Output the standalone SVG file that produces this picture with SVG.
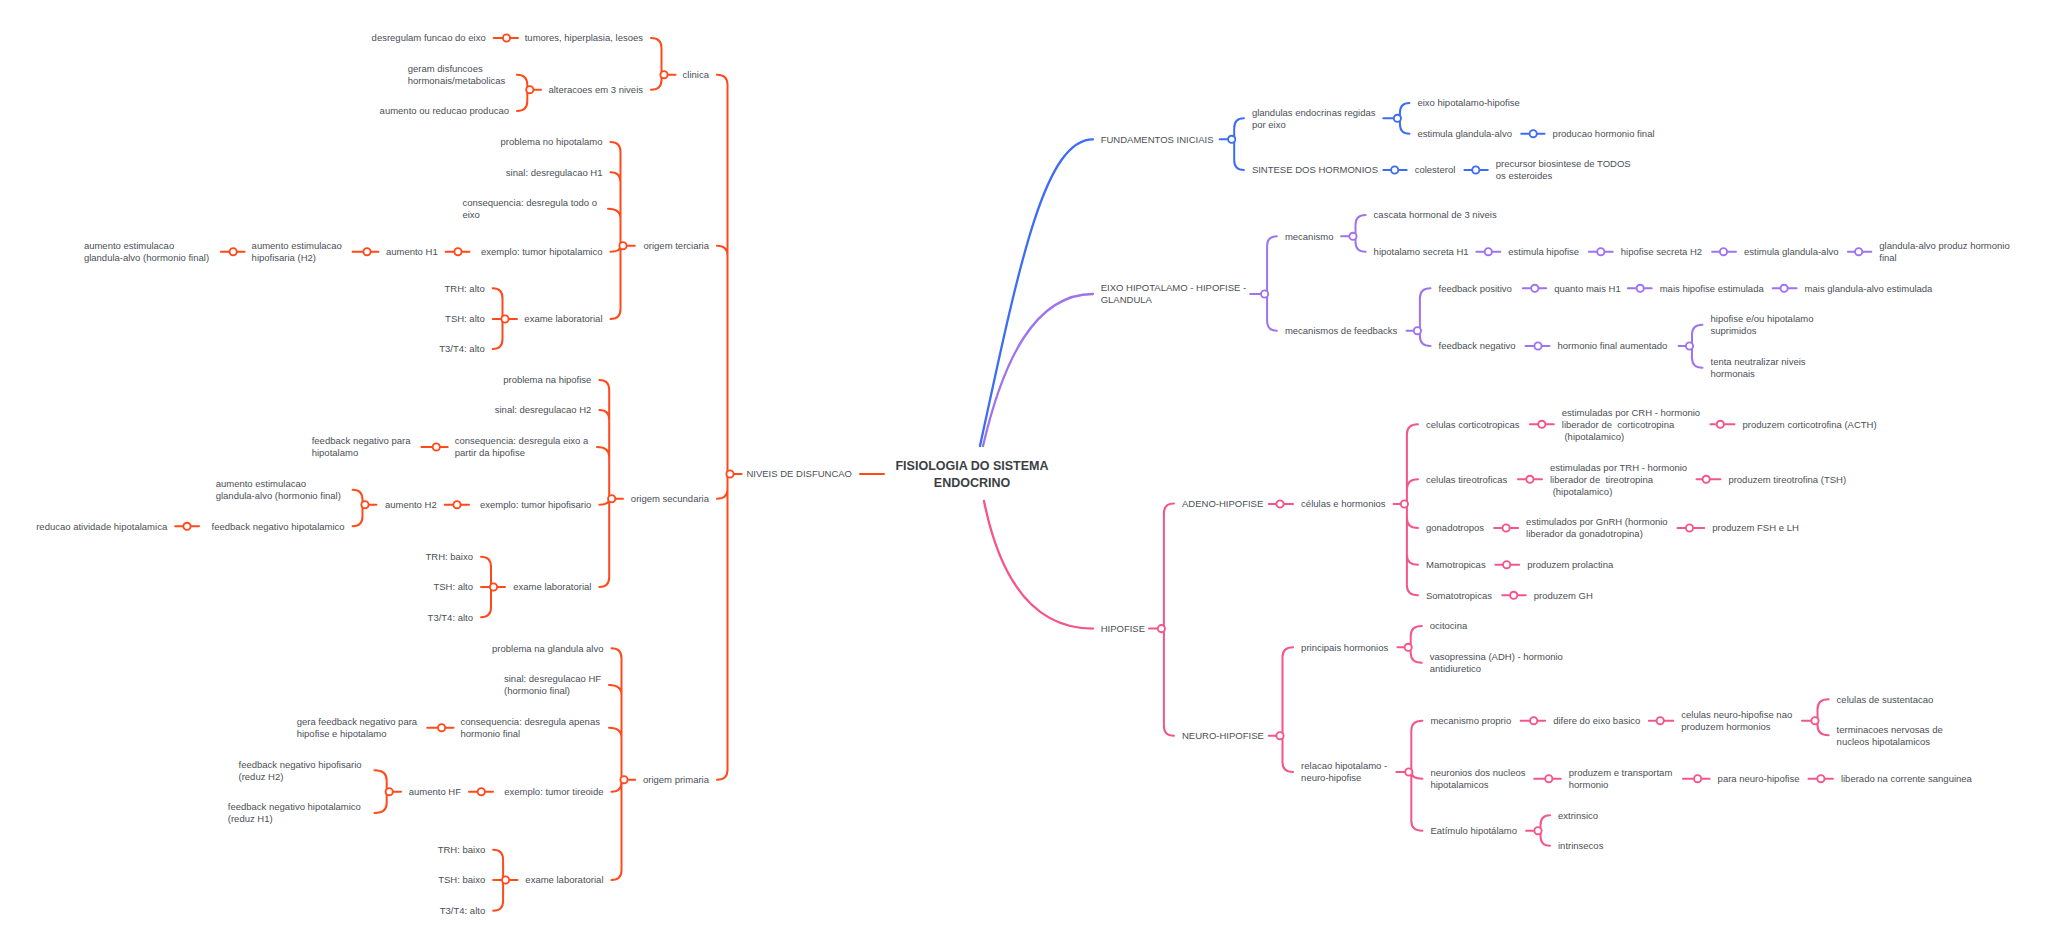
<svg xmlns="http://www.w3.org/2000/svg" width="2048" height="949" viewBox="0 0 2048 949">
<style>
.t{font-family:"Liberation Sans",Arial,sans-serif;font-size:9.5px;fill:#4b4f56;stroke:none}
.e{text-anchor:end}
.title{font-family:"Liberation Sans",Arial,sans-serif;font-size:12.5px;font-weight:bold;fill:#3b3f45;stroke:none;text-anchor:middle}
.red{stroke:#ff4a1c}.blue{stroke:#3d6cf5}.pur{stroke:#9f73ee}.pink{stroke:#f4558a}
circle{fill:#fff;stroke-width:1.9}
#connectors path{fill:none;stroke-width:2;stroke-linecap:round}
#connectors .root{stroke-width:2.3}
</style>
<rect width="2048" height="949" fill="#fff"/>
<g id="connectors">
<g class="red">
<path d="M884 474L860 474M741.6 474L730 474"/>
<path d="M717 74.7Q727.5 74.7 727.5 84.7L727.5 474M717 245.7Q727.5 245.7 727.5 255.7L727.5 474M717 498.7Q727.5 498.7 727.5 488.7L727.5 474M717 779.7Q727.5 779.7 727.5 769.7L727.5 474"/>
<path d="M675.5 74.7L664 74.7M651 38Q661.5 38 661.5 48L661.5 74.7M651 89.7Q661.5 89.7 661.5 79.7L661.5 74.7"/>
<path d="M518 38L493.7 38"/>
<path d="M541 89.7L529.8 89.7M517 74.7Q527.3 74.7 527.3 84.7L527.3 89.7M517 111Q527.3 111 527.3 101L527.3 89.7"/>
<path d="M634.8 245.7L623 245.7M610.5 142Q620.5 142 620.5 152L620.5 245.7M610.5 172.3Q620.5 172.3 620.5 182.3L620.5 245.7M608 208.8Q620.5 208.8 620.5 218.8L620.5 245.7M610.5 251.7Q620.5 251.7 620.5 245.7M610.5 319Q620.5 319 620.5 309L620.5 245.7"/>
<path d="M469.5 251.7L445.7 251.7M378.4 251.7L352.6 251.7M244.6 251.7L220.8 251.7"/>
<path d="M517 319L492.7 319M492.7 288.3Q502.5 288.3 502.5 298.3L502.5 319M492.7 349Q502.5 349 502.5 339L502.5 319"/>
<path d="M623 498.7L611.7 498.7M599.4 380Q609.2 380 609.2 390L609.2 498.7M599.4 410Q609.2 410 609.2 420L609.2 498.7M597 447Q609.2 447 609.2 457L609.2 498.7M599.4 504.7Q609.2 504.7 609.2 498.7M599.4 587Q609.2 587 609.2 577L609.2 498.7"/>
<path d="M447.7 447L421.5 447M469 504.7L444.7 504.7M376.4 504.7L365 504.7M352.6 489.7Q362.5 489.7 362.5 499.7L362.5 504.7M352.6 526.3Q362.5 526.3 362.5 516.3L362.5 504.7M199 526.3L175.2 526.3"/>
<path d="M505 587L481 587M481 556.7Q491 556.7 491 566.7L491 587M481 617.3Q491 617.3 491 607.3L491 587"/>
<path d="M635.3 779.7L624 779.7M611.5 648.3Q621.5 648.3 621.5 658.3L621.5 779.7M609 685Q621.5 685 621.5 695L621.5 779.7M609 727.7Q621.5 727.7 621.5 737.7L621.5 779.7M611.5 791.7Q621.5 791.7 621.5 781.7L621.5 779.7M611.5 880Q621.5 880 621.5 870L621.5 779.7"/>
<path d="M453.5 727.7L427.3 727.7M493 791.7L469 791.7M401 791.7L389.2 791.7M374.5 770.3Q386.7 770.3 386.7 780.3L386.7 791.7M374.5 813Q386.7 813 386.7 803L386.7 791.7"/>
<path d="M517.5 880L493.2 880M493.2 849.7Q503.1 849.7 503.1 859.7L503.1 880M493.2 910.7Q503.1 910.7 503.1 900.7L503.1 880"/>
</g>
<g class="blue">
<path class="root" d="M980 446C1020 260 1045 139.3 1093 139.3"/>
<path d="M1219.7 139.3L1231.7 139.3M1243.9 118.3Q1234.2 118.3 1234.2 128.3L1234.2 139.3M1243.9 170Q1234.2 170 1234.2 160L1234.2 139.3"/>
<path d="M1383.3 118.3L1397.4 118.3M1409.4 103Q1399.9 103 1399.9 113L1399.9 118.3M1409.4 133.7Q1399.9 133.7 1399.9 123.7L1399.9 118.3"/>
<path d="M1521.2 133.7L1544.6 133.7M1383.3 170L1406.7 170M1464.4 170L1487.8 170"/>
</g>
<g class="pur">
<path class="root" d="M983 446C1003 360 1035 294 1093 294"/>
<path d="M1250.2 294L1264.6 294M1276.9 236.3Q1267.1 236.3 1267.1 246.3L1267.1 294M1276.9 330.7Q1267.1 330.7 1267.1 320.7L1267.1 294"/>
<path d="M1341.1 236.3L1353 236.3M1365.6 215Q1355.5 215 1355.5 225L1355.5 236.3M1365.6 251.7Q1355.5 251.7 1355.5 241.7L1355.5 236.3"/>
<path d="M1476.3 251.7L1500.3 251.7M1588.8 251.7L1612.8 251.7M1712.1 251.7L1736 251.7M1847.9 251.7L1871.3 251.7"/>
<path d="M1406.6 330.7L1417.4 330.7M1430.5 288.3Q1419.9 288.3 1419.9 298.3L1419.9 330.7M1430.5 346Q1419.9 346 1419.9 336L1419.9 330.7"/>
<path d="M1522.8 288.3L1546.2 288.3M1627.8 288.3L1651.7 288.3M1772.7 288.3L1796.6 288.3M1525.5 346L1549.5 346"/>
<path d="M1678.6 346L1689.5 346M1702.5 324.8Q1692 324.8 1692 334.8L1692 346M1702.5 367.7Q1692 367.7 1692 357.7L1692 346"/>
</g>
<g class="pink">
<path class="root" d="M984 501C1002 590 1040 628.6 1093 628.6"/>
<path d="M1149 628.6L1161.4 628.6M1174 503.6Q1163.9 503.6 1163.9 513.6L1163.9 628.6M1174 735.7Q1163.9 735.7 1163.9 725.7L1163.9 628.6"/>
<path d="M1268.8 504L1293.1 504M1393.6 504L1404.4 504"/>
<path d="M1418 424.3Q1406.9 424.3 1406.9 434.3L1406.9 504M1418 479.3Q1406.9 479.3 1406.9 489.3L1406.9 504M1418 528Q1406.9 528 1406.9 518L1406.9 504M1418 564.7Q1406.9 564.7 1406.9 554.7L1406.9 504M1418 595.3Q1406.9 595.3 1406.9 585.3L1406.9 504"/>
<path d="M1529.9 424.3L1553.8 424.3M1710.5 424.3L1734.5 424.3M1518 479.3L1542 479.3M1696.5 479.3L1720.4 479.3M1494.2 528L1518.1 528M1677.5 528L1704.2 528M1495.3 564.7L1519.2 564.7M1502.3 595.3L1525.7 595.3"/>
<path d="M1268.7 735.7L1280 735.7M1293.1 647.3Q1282.5 647.3 1282.5 657.3L1282.5 735.7M1293.1 772Q1282.5 772 1282.5 762L1282.5 735.7"/>
<path d="M1397.4 647.3L1408.2 647.3M1421.8 626Q1410.7 626 1410.7 636L1410.7 647.3M1421.8 662.7Q1410.7 662.7 1410.7 652.7L1410.7 647.3"/>
<path d="M1396.3 772L1408.8 772M1422.4 720.7Q1411.3 720.7 1411.3 730.7L1411.3 772M1422.4 778.7Q1411.3 778.7 1411.3 772M1422.4 830.7Q1411.3 830.7 1411.3 820.7L1411.3 772"/>
<path d="M1520.7 720.7L1545.2 720.7M1648.9 720.7L1673.3 720.7M1802 720.7L1815 720.7M1828.6 699.3Q1817.5 699.3 1817.5 709.3L1817.5 720.7M1828.6 735.3Q1817.5 735.3 1817.5 725.3L1817.5 720.7"/>
<path d="M1534.2 778.7L1560.8 778.7M1683 778.7L1709.6 778.7M1808.4 778.7L1832.9 778.7"/>
<path d="M1526.1 830.7L1538 830.7M1550 815.3Q1540.5 815.3 1540.5 825.3L1540.5 830.7M1550 845.7Q1540.5 845.7 1540.5 835.7L1540.5 830.7"/>
</g>
</g>

<g id="root"><text class="title" x="972" y="470">FISIOLOGIA DO SISTEMA</text><text class="title" x="972" y="486.5">ENDOCRINO</text></g>

<g class="red">
<g id="niveis"><text class="t e" x="852" y="477.4">NIVEIS DE DISFUNCAO</text><circle cx="730" cy="474" r="3.6"/></g>
<g id="clinica"><text class="t e" x="709" y="78.1">clinica</text><circle cx="664" cy="74.7" r="3.6"/></g>
<g id="tumores"><text class="t e" x="643" y="41.4">tumores, hiperplasia, lesoes</text><circle cx="506.5" cy="38" r="3.6"/></g>
<g id="desregulam"><text class="t e" x="485.7" y="41.4">desregulam funcao do eixo</text></g>
<g id="alteracoes"><text class="t e" x="643" y="93.1">alteracoes em 3 niveis</text><circle cx="529.8" cy="89.7" r="3.6"/></g>
<g id="geram"><text class="t" x="407.7" y="72.1">geram disfuncoes<tspan x="407.7" y="84.1">hormonais/metabolicas</tspan></text></g>
<g id="aumento-reducao"><text class="t e" x="509" y="114.4">aumento ou reducao producao</text></g>

<g id="terciaria"><text class="t e" x="709" y="249.1">origem terciaria</text><circle cx="623" cy="245.7" r="3.6"/></g>
<g id="ter-problema"><text class="t e" x="602.5" y="145.4">problema no hipotalamo</text></g>
<g id="ter-sinal"><text class="t e" x="602.5" y="175.7">sinal: desregulacao H1</text></g>
<g id="ter-consequencia"><text class="t" x="462.4" y="206.1">consequencia: desregula todo o<tspan x="462.4" y="218.1">eixo</tspan></text></g>
<g id="ter-exemplo"><text class="t e" x="602.5" y="255.1">exemplo: tumor hipotalamico</text><circle cx="458" cy="251.7" r="3.6"/></g>
<g id="ter-aumento-h1"><text class="t e" x="437.7" y="255.1">aumento H1</text><circle cx="367" cy="251.7" r="3.6"/></g>
<g id="ter-estim-hip"><text class="t" x="251.6" y="249.1">aumento estimulacao<tspan x="251.6" y="261.1">hipofisaria (H2)</tspan></text><circle cx="233.2" cy="251.7" r="3.6"/></g>
<g id="ter-estim-gl"><text class="t" x="83.9" y="249.1">aumento estimulacao<tspan x="83.9" y="261.1">glandula-alvo (hormonio final)</tspan></text></g>
<g id="ter-exame"><text class="t e" x="602.5" y="322.4">exame laboratorial</text><circle cx="505" cy="319" r="3.6"/></g>
<g id="ter-trh"><text class="t e" x="484.7" y="291.7">TRH: alto</text></g>
<g id="ter-tsh"><text class="t e" x="484.7" y="322.4">TSH: alto</text></g>
<g id="ter-t3"><text class="t e" x="484.7" y="352.4">T3/T4: alto</text></g>

<g id="secundaria"><text class="t e" x="709" y="502.1">origem secundaria</text><circle cx="611.7" cy="498.7" r="3.6"/></g>
<g id="sec-problema"><text class="t e" x="591.4" y="383.4">problema na hipofise</text></g>
<g id="sec-sinal"><text class="t e" x="591.4" y="413.4">sinal: desregulacao H2</text></g>
<g id="sec-consequencia"><text class="t" x="454.7" y="444.4">consequencia: desregula eixo a<tspan x="454.7" y="456.4">partir da hipofise</tspan></text><circle cx="436.3" cy="447" r="3.6"/></g>
<g id="sec-feedback"><text class="t" x="311.7" y="444.4">feedback negativo para<tspan x="311.7" y="456.4">hipotalamo</tspan></text></g>
<g id="sec-exemplo"><text class="t e" x="591.4" y="508.1">exemplo: tumor hipofisario</text><circle cx="457" cy="504.7" r="3.6"/></g>
<g id="sec-aumento-h2"><text class="t e" x="436.7" y="508.1">aumento H2</text><circle cx="365" cy="504.7" r="3.6"/></g>
<g id="sec-estim-gl"><text class="t" x="215.7" y="487.1">aumento estimulacao<tspan x="215.7" y="499.1">glandula-alvo (hormonio final)</tspan></text></g>
<g id="sec-fb-hipot"><text class="t e" x="344.6" y="529.7">feedback negativo hipotalamico</text><circle cx="187" cy="526.3" r="3.6"/></g>
<g id="sec-reducao"><text class="t e" x="167.2" y="529.7">reducao atividade hipotalamica</text></g>
<g id="sec-exame"><text class="t e" x="591.4" y="590.4">exame laboratorial</text><circle cx="493.5" cy="587" r="3.6"/></g>
<g id="sec-trh"><text class="t e" x="473" y="560.1">TRH: baixo</text></g>
<g id="sec-tsh"><text class="t e" x="473" y="590.4">TSH: alto</text></g>
<g id="sec-t3"><text class="t e" x="473" y="620.7">T3/T4: alto</text></g>

<g id="primaria"><text class="t e" x="709" y="783.1">origem primaria</text><circle cx="624" cy="779.7" r="3.6"/></g>
<g id="pri-problema"><text class="t e" x="603.5" y="651.7">problema na glandula alvo</text></g>
<g id="pri-sinal"><text class="t" x="504" y="682.4">sinal: desregulacao HF<tspan x="504" y="694.4">(hormonio final)</tspan></text></g>
<g id="pri-consequencia"><text class="t" x="460.5" y="725.1">consequencia: desregula apenas<tspan x="460.5" y="737.1">hormonio final</tspan></text><circle cx="441.6" cy="727.7" r="3.6"/></g>
<g id="pri-gera"><text class="t" x="296.7" y="725.1">gera feedback negativo para<tspan x="296.7" y="737.1">hipofise e hipotalamo</tspan></text></g>
<g id="pri-exemplo"><text class="t e" x="603.5" y="795.1">exemplo: tumor tireoide</text><circle cx="481.3" cy="791.7" r="3.6"/></g>
<g id="pri-aumento-hf"><text class="t e" x="461" y="795.1">aumento HF</text><circle cx="389.2" cy="791.7" r="3.6"/></g>
<g id="pri-fb-hipof"><text class="t" x="238.5" y="767.7">feedback negativo hipofisario<tspan x="238.5" y="779.7">(reduz H2)</tspan></text></g>
<g id="pri-fb-hipot"><text class="t" x="227.8" y="810.4">feedback negativo hipotalamico<tspan x="227.8" y="822.4">(reduz H1)</tspan></text></g>
<g id="pri-exame"><text class="t e" x="603.5" y="883.4">exame laboratorial</text><circle cx="505.6" cy="880" r="3.6"/></g>
<g id="pri-trh"><text class="t e" x="485.2" y="853.1">TRH: baixo</text></g>
<g id="pri-tsh"><text class="t e" x="485.2" y="883.4">TSH: baixo</text></g>
<g id="pri-t3"><text class="t e" x="485.2" y="914.1">T3/T4: alto</text></g>
</g>

<g class="blue">
<g id="fundamentos"><text class="t" x="1100.7" y="142.7">FUNDAMENTOS INICIAIS</text><circle cx="1231.7" cy="139.3" r="3.6"/></g>
<g id="glandulas"><text class="t" x="1251.9" y="115.7">glandulas endocrinas regidas<tspan x="1251.9" y="127.7">por eixo</tspan></text><circle cx="1397.4" cy="118.3" r="3.6"/></g>
<g id="eixo-hh"><text class="t" x="1417.4" y="106.4">eixo hipotalamo-hipofise</text></g>
<g id="estimula-ga"><text class="t" x="1417.4" y="137.1">estimula glandula-alvo</text><circle cx="1533.2" cy="133.7" r="3.6"/></g>
<g id="producao"><text class="t" x="1552.6" y="137.1">producao hormonio final</text></g>
<g id="sintese"><text class="t" x="1251.9" y="173.4">SINTESE DOS HORMONIOS</text><circle cx="1394.7" cy="170" r="3.6"/></g>
<g id="colesterol"><text class="t" x="1414.7" y="173.4">colesterol</text><circle cx="1475.8" cy="170" r="3.6"/></g>
<g id="precursor"><text class="t" x="1495.8" y="167.4">precursor biosintese de TODOS<tspan x="1495.8" y="179.4">os esteroides</tspan></text></g>
</g>

<g class="pur">
<g id="eixo"><text class="t" x="1100.7" y="291.3">EIXO HIPOTALAMO - HIPOFISE -<tspan x="1100.7" y="303.4">GLANDULA</tspan></text><circle cx="1264.6" cy="294" r="3.6"/></g>
<g id="mecanismo"><text class="t" x="1284.9" y="239.7">mecanismo</text><circle cx="1353" cy="236.3" r="3.6"/></g>
<g id="cascata"><text class="t" x="1373.6" y="218.4">cascata hormonal de 3 niveis</text></g>
<g id="hip-h1"><text class="t" x="1373.6" y="255.1">hipotalamo secreta H1</text><circle cx="1488.3" cy="251.7" r="3.6"/></g>
<g id="estim-hipofise"><text class="t" x="1508.3" y="255.1">estimula hipofise</text><circle cx="1600.8" cy="251.7" r="3.6"/></g>
<g id="hipofise-h2"><text class="t" x="1620.8" y="255.1">hipofise secreta H2</text><circle cx="1723.5" cy="251.7" r="3.6"/></g>
<g id="estim-ga2"><text class="t" x="1744" y="255.1">estimula glandula-alvo</text><circle cx="1858.7" cy="251.7" r="3.6"/></g>
<g id="ga-produz"><text class="t" x="1879.3" y="249.1">glandula-alvo produz hormonio<tspan x="1879.3" y="261.1">final</tspan></text></g>
<g id="feedbacks"><text class="t" x="1284.9" y="334.1">mecanismos de feedbacks</text><circle cx="1417.4" cy="330.7" r="3.6"/></g>
<g id="fb-pos"><text class="t" x="1438.5" y="291.7">feedback positivo</text><circle cx="1534.8" cy="288.3" r="3.6"/></g>
<g id="quanto"><text class="t" x="1554.2" y="291.7">quanto mais H1</text><circle cx="1640.2" cy="288.3" r="3.6"/></g>
<g id="mais-hip"><text class="t" x="1659.7" y="291.7">mais hipofise estimulada</text><circle cx="1784.1" cy="288.3" r="3.6"/></g>
<g id="mais-ga"><text class="t" x="1804.6" y="291.7">mais glandula-alvo estimulada</text></g>
<g id="fb-neg"><text class="t" x="1438.5" y="349.4">feedback negativo</text><circle cx="1538" cy="346" r="3.6"/></g>
<g id="hf-aumentado"><text class="t" x="1557.5" y="349.4">hormonio final aumentado</text><circle cx="1689.5" cy="346" r="3.6"/></g>
<g id="suprimidos"><text class="t" x="1710.5" y="322.2">hipofise e/ou hipotalamo<tspan x="1710.5" y="334.2">suprimidos</tspan></text></g>
<g id="neutralizar"><text class="t" x="1710.5" y="365.1">tenta neutralizar niveis<tspan x="1710.5" y="377.1">hormonais</tspan></text></g>
</g>

<g class="pink">
<g id="hipofise"><text class="t" x="1100.7" y="632">HIPOFISE</text><circle cx="1161.4" cy="628.6" r="3.6"/></g>
<g id="adeno"><text class="t" x="1182" y="507.2">ADENO-HIPOFISE</text><circle cx="1280" cy="504" r="3.6"/></g>
<g id="celulas-horm"><text class="t" x="1301.1" y="507.4">células e hormonios</text><circle cx="1404.4" cy="504" r="3.6"/></g>
<g id="cortico"><text class="t" x="1426" y="427.7">celulas corticotropicas</text><circle cx="1541.8" cy="424.3" r="3.6"/></g>
<g id="crh"><text class="t" x="1561.8" y="415.7" xml:space="preserve">estimuladas por CRH - hormonio<tspan x="1561.8" y="427.7">liberador de  corticotropina</tspan><tspan x="1561.8" y="439.7"> (hipotalamico)</tspan></text><circle cx="1720.3" cy="424.3" r="3.6"/></g>
<g id="acth"><text class="t" x="1742.5" y="427.7">produzem corticotrofina (ACTH)</text></g>
<g id="tireo"><text class="t" x="1426" y="482.7">celulas tireotroficas</text><circle cx="1529.9" cy="479.3" r="3.6"/></g>
<g id="trh"><text class="t" x="1550" y="470.7" xml:space="preserve">estimuladas por TRH - hormonio<tspan x="1550" y="482.7">liberador de  tireotropina</tspan><tspan x="1550" y="494.7"> (hipotalamico)</tspan></text><circle cx="1706.2" cy="479.3" r="3.6"/></g>
<g id="tsh"><text class="t" x="1728.4" y="482.7">produzem tireotrofina (TSH)</text></g>
<g id="gonado"><text class="t" x="1426" y="531.4">gonadotropos</text><circle cx="1506.1" cy="528" r="3.6"/></g>
<g id="gnrh"><text class="t" x="1526.1" y="525.4">estimulados por GnRH (hormonio<tspan x="1526.1" y="537.4">liberador da gonadotropina)</tspan></text><circle cx="1689.5" cy="528" r="3.6"/></g>
<g id="fsh"><text class="t" x="1712.2" y="531.4">produzem FSH e LH</text></g>
<g id="mamo"><text class="t" x="1426" y="568.1">Mamotropicas</text><circle cx="1506.7" cy="564.7" r="3.6"/></g>
<g id="prolactina"><text class="t" x="1527.2" y="568.1">produzem prolactina</text></g>
<g id="somato"><text class="t" x="1426" y="598.7">Somatotropicas</text><circle cx="1513.7" cy="595.3" r="3.6"/></g>
<g id="gh"><text class="t" x="1533.7" y="598.7">produzem GH</text></g>
<g id="neuro"><text class="t" x="1182" y="739.1">NEURO-HIPOFISE</text><circle cx="1280" cy="735.7" r="3.6"/></g>
<g id="principais"><text class="t" x="1301.1" y="650.7">principais hormonios</text><circle cx="1408.2" cy="647.3" r="3.6"/></g>
<g id="ocitocina"><text class="t" x="1429.8" y="629.4">ocitocina</text></g>
<g id="vasopressina"><text class="t" x="1429.8" y="660.1">vasopressina (ADH) - hormonio<tspan x="1429.8" y="672.1">antidiuretico</tspan></text></g>
<g id="relacao"><text class="t" x="1301.1" y="769.4">relacao hipotalamo -<tspan x="1301.1" y="781.4">neuro-hipofise</tspan></text><circle cx="1408.8" cy="772" r="3.6"/></g>
<g id="mec-proprio"><text class="t" x="1430.4" y="724.1">mecanismo proprio</text><circle cx="1533.7" cy="720.7" r="3.6"/></g>
<g id="difere"><text class="t" x="1553.2" y="724.1">difere do eixo basico</text><circle cx="1660.2" cy="720.7" r="3.6"/></g>
<g id="cel-neuro"><text class="t" x="1681.3" y="718.1">celulas neuro-hipofise nao<tspan x="1681.3" y="730.1">produzem hormonios</tspan></text><circle cx="1815" cy="720.7" r="3.6"/></g>
<g id="sustentacao"><text class="t" x="1836.6" y="702.7">celulas de sustentacao</text></g>
<g id="terminacoes"><text class="t" x="1836.6" y="732.7">terminacoes nervosas de<tspan x="1836.6" y="744.7">nucleos hipotalamicos</tspan></text></g>
<g id="neuronios"><text class="t" x="1430.4" y="776.1">neuronios dos nucleos<tspan x="1430.4" y="788.1">hipotalamicos</tspan></text><circle cx="1548.8" cy="778.7" r="3.6"/></g>
<g id="transportam"><text class="t" x="1568.8" y="776.1">produzem e transportam<tspan x="1568.8" y="788.1">hormonio</tspan></text><circle cx="1697.6" cy="778.7" r="3.6"/></g>
<g id="para-neuro"><text class="t" x="1717.6" y="782.1">para neuro-hipofise</text><circle cx="1820.9" cy="778.7" r="3.6"/></g>
<g id="liberado"><text class="t" x="1840.9" y="782.1">liberado na corrente sanguinea</text></g>
<g id="estimulo"><text class="t" x="1430.4" y="834.1">Eatímulo hipotálamo</text><circle cx="1538" cy="830.7" r="3.6"/></g>
<g id="extrinsico"><text class="t" x="1558" y="818.7">extrinsico</text></g>
<g id="intrinsecos"><text class="t" x="1558" y="849.1">intrinsecos</text></g>
</g>
</svg>
